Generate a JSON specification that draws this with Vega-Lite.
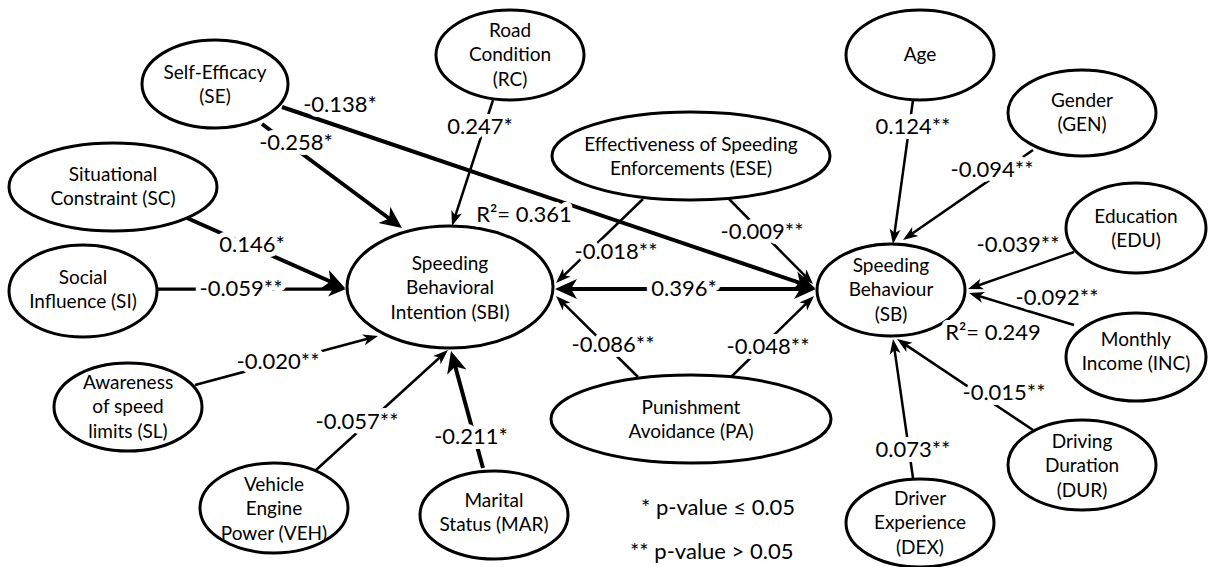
{
  "$schema": "https://vega.github.io/schema/vega-lite/v6.json",
  "width": 1208,
  "height": 567,
  "padding": 0,
  "autosize": {"type": "none"},
  "background": "white",
  "config": {"view": {"stroke": null}},
  "datasets": {
    "nodes": [
      {"id": "SE", "label": "Self-Efficacy\n(SE)", "x": 215, "y": 85},
      {"id": "RC", "label": "Road\nCondition\n(RC)", "x": 510, "y": 55},
      {"id": "ESE", "label": "Effectiveness of Speeding\nEnforcements (ESE)", "x": 691, "y": 157},
      {"id": "AGE", "label": "Age", "x": 920, "y": 55},
      {"id": "GEN", "label": "Gender\n(GEN)", "x": 1082, "y": 113},
      {"id": "SC", "label": "Situational\nConstraint (SC)", "x": 113, "y": 187},
      {"id": "SI", "label": "Social\nInfluence (SI)", "x": 83, "y": 290},
      {"id": "SBI", "label": "Speeding\nBehavioral\nIntention (SBI)", "x": 450, "y": 288},
      {"id": "EDU", "label": "Education\n(EDU)", "x": 1136, "y": 229},
      {"id": "SB", "label": "Speeding\nBehaviour\n(SB)", "x": 891, "y": 290},
      {"id": "INC", "label": "Monthly\nIncome (INC)", "x": 1136, "y": 352},
      {"id": "SL", "label": "Awareness\nof speed\nlimits  (SL)", "x": 128, "y": 407},
      {"id": "VEH", "label": "Vehicle\nEngine\nPower (VEH)", "x": 274, "y": 509},
      {"id": "MAR", "label": "Marital\nStatus (MAR)", "x": 494, "y": 513},
      {"id": "PA", "label": "Punishment\nAvoidance (PA)", "x": 691, "y": 420},
      {"id": "DUR", "label": "Driving\nDuration\n(DUR)", "x": 1082, "y": 466},
      {"id": "DEX", "label": "Driver\nExperience\n(DEX)", "x": 920, "y": 523}
    ],
    "edges": [
      {"from": "SE", "to": "SBI", "x1": 262, "y1": 124, "x2": 402, "y2": 228, "weight": "thick"},
      {"from": "SE", "to": "SB", "x1": 282, "y1": 107, "x2": 815, "y2": 288, "weight": "thick"},
      {"from": "RC", "to": "SBI", "x1": 493, "y1": 100, "x2": 452, "y2": 226, "weight": "thin"},
      {"from": "SC", "to": "SBI", "x1": 187, "y1": 218, "x2": 345, "y2": 288, "weight": "thick"},
      {"from": "SI", "to": "SBI", "x1": 157, "y1": 289, "x2": 346, "y2": 289, "weight": "medium"},
      {"from": "SL", "to": "SBI", "x1": 195, "y1": 385, "x2": 378, "y2": 336, "weight": "thin"},
      {"from": "VEH", "to": "SBI", "x1": 316, "y1": 470, "x2": 448, "y2": 350, "weight": "thin"},
      {"from": "MAR", "to": "SBI", "x1": 483, "y1": 468, "x2": 451, "y2": 351, "weight": "thick"},
      {"from": "ESE", "to": "SBI", "x1": 643, "y1": 199, "x2": 556, "y2": 283, "weight": "thin"},
      {"from": "ESE", "to": "SB", "x1": 728, "y1": 198, "x2": 813, "y2": 284, "weight": "thin"},
      {"from": "SB", "to": "SBI", "x1": 684, "y1": 289, "x2": 555, "y2": 289, "weight": "thick"},
      {"from": "SBI", "to": "SB", "x1": 684, "y1": 289, "x2": 816, "y2": 289, "weight": "thick"},
      {"from": "PA", "to": "SBI", "x1": 638, "y1": 377, "x2": 556, "y2": 296, "weight": "thin"},
      {"from": "PA", "to": "SB", "x1": 731, "y1": 377, "x2": 814, "y2": 296, "weight": "thin"},
      {"from": "AGE", "to": "SB", "x1": 913, "y1": 100, "x2": 893, "y2": 244, "weight": "thin"},
      {"from": "GEN", "to": "SB", "x1": 1033, "y1": 150, "x2": 903, "y2": 240, "weight": "thin"},
      {"from": "EDU", "to": "SB", "x1": 1074, "y1": 252, "x2": 968, "y2": 289, "weight": "thin"},
      {"from": "INC", "to": "SB", "x1": 1074, "y1": 325, "x2": 969, "y2": 293, "weight": "thin"},
      {"from": "DUR", "to": "SB", "x1": 1033, "y1": 430, "x2": 897, "y2": 339, "weight": "thin"},
      {"from": "DEX", "to": "SB", "x1": 913, "y1": 478, "x2": 893, "y2": 339, "weight": "thin"}
    ],
    "labels": [
      {"t": "-0.138*", "x": 340, "y": 105},
      {"t": "-0.258*", "x": 296, "y": 143},
      {"t": "0.247*", "x": 480, "y": 127},
      {"t": "0.146*", "x": 252, "y": 245},
      {"t": "-0.059**", "x": 241, "y": 289},
      {"t": "-0.020**", "x": 278, "y": 362},
      {"t": "-0.057**", "x": 357, "y": 422},
      {"t": "-0.211*", "x": 471, "y": 437},
      {"t": "R²= 0.361", "x": 524, "y": 215},
      {"t": "-0.018**", "x": 616, "y": 252},
      {"t": "-0.009**", "x": 762, "y": 232},
      {"t": "0.396*", "x": 684, "y": 289},
      {"t": "-0.086**", "x": 613, "y": 345},
      {"t": "-0.048**", "x": 768, "y": 347},
      {"t": "0.124**", "x": 913, "y": 127},
      {"t": "-0.094**", "x": 992, "y": 170},
      {"t": "-0.039**", "x": 1018, "y": 245},
      {"t": "-0.092**", "x": 1057, "y": 298},
      {"t": "R²= 0.249", "x": 993, "y": 333},
      {"t": "-0.015**", "x": 1004, "y": 393},
      {"t": "0.073**", "x": 913, "y": 450}
    ],
    "notes": [
      {"t": "* p-value ≤ 0.05", "x": 641, "y": 508},
      {"t": "** p-value > 0.05", "x": 630, "y": 552}
    ]
  },
  "resolve": {"scale": {"shape": "independent", "strokeWidth": "independent"}},
  "layer": [
    {
      "data": {"name": "edges"},
      "transform": [
        {"calculate": "datum.x2 - datum.x1", "as": "dx"},
        {"calculate": "datum.y2 - datum.y1", "as": "dy"},
        {"calculate": "sqrt(datum.dx * datum.dx + datum.dy * datum.dy)", "as": "len"},
        {"calculate": "datum.weight == 'thick' ? 13 : (datum.weight == 'medium' ? 9 : 6)", "as": "back"},
        {"calculate": "datum.x2 - datum.dx / datum.len * datum.back", "as": "xe"},
        {"calculate": "datum.y2 - datum.dy / datum.len * datum.back", "as": "ye"}
      ],
      "mark": {"type": "rule", "color": "black", "strokeCap": "butt"},
      "encoding": {
        "x": {"field": "x1", "type": "quantitative", "axis": null, "scale": {"domain": [0, 1208], "nice": false, "zero": false}},
        "y": {"field": "y1", "type": "quantitative", "axis": null, "scale": {"domain": [0, 567], "nice": false, "zero": false, "reverse": true}},
        "x2": {"field": "xe"},
        "y2": {"field": "ye"},
        "strokeWidth": {"field": "weight", "type": "nominal", "legend": null, "scale": {"domain": ["thin", "medium", "thick"], "range": [2.5, 4, 6.5]}}
      }
    },
    {
      "data": {"name": "nodes"},
      "mark": {"type": "point", "filled": true, "fill": "white", "stroke": "black", "strokeWidth": 3, "opacity": 1, "size": 4},
      "encoding": {
        "x": {"field": "x", "type": "quantitative", "axis": null, "scale": {"domain": [0, 1208], "nice": false, "zero": false}},
        "y": {"field": "y", "type": "quantitative", "axis": null, "scale": {"domain": [0, 567], "nice": false, "zero": false, "reverse": true}},
        "shape": {
          "field": "id", "type": "nominal", "legend": null,
          "scale": {
            "domain": ["SE", "RC", "ESE", "AGE", "GEN", "SC", "SI", "SBI", "EDU", "SB", "INC", "SL", "VEH", "MAR", "PA", "DUR", "DEX"],
            "range": [
              "M-73,-1 A73,44 0 1 0 73,-1 A73,44 0 1 0 -73,-1 Z",
              "M-74,0 A74,45 0 1 0 74,0 A74,45 0 1 0 -74,0 Z",
              "M-139,-1 A139,44 0 1 0 139,-1 A139,44 0 1 0 -139,-1 Z",
              "M-74,0 A74,45 0 1 0 74,0 A74,45 0 1 0 -74,0 Z",
              "M-74,0 A74,43 0 1 0 74,0 A74,43 0 1 0 -74,0 Z",
              "M-104,0 A104,44 0 1 0 104,0 A104,44 0 1 0 -104,0 Z",
              "M-74,1 A74,46 0 1 0 74,1 A74,46 0 1 0 -74,1 Z",
              "M-103,-1 A103,61 0 1 0 103,-1 A103,61 0 1 0 -103,-1 Z",
              "M-70,-1 A70,45 0 1 0 70,-1 A70,45 0 1 0 -70,-1 Z",
              "M-74,0 A74,46 0 1 0 74,0 A74,46 0 1 0 -74,0 Z",
              "M-70,5 A70,44 0 1 0 70,5 A70,44 0 1 0 -70,5 Z",
              "M-74,0 A74,44 0 1 0 74,0 A74,44 0 1 0 -74,0 Z",
              "M-74,-1 A74,45 0 1 0 74,-1 A74,45 0 1 0 -74,-1 Z",
              "M-74,2 A74,44 0 1 0 74,2 A74,44 0 1 0 -74,2 Z",
              "M-140,-1 A140,44 0 1 0 140,-1 A140,44 0 1 0 -140,-1 Z",
              "M-74,-1 A74,45 0 1 0 74,-1 A74,45 0 1 0 -74,-1 Z",
              "M-74,0 A74,44 0 1 0 74,0 A74,44 0 1 0 -74,0 Z"
            ]
          }
        }
      }
    },
    {
      "data": {"name": "edges"},
      "transform": [
        {"calculate": "atan2(datum.x2 - datum.x1, datum.y1 - datum.y2) * 180 / PI", "as": "ang"}
      ],
      "mark": {"type": "point", "filled": true, "color": "black", "opacity": 1, "size": 4, "strokeWidth": 0},
      "encoding": {
        "x": {"field": "x2", "type": "quantitative", "axis": null, "scale": {"domain": [0, 1208], "nice": false, "zero": false}},
        "y": {"field": "y2", "type": "quantitative", "axis": null, "scale": {"domain": [0, 567], "nice": false, "zero": false, "reverse": true}},
        "angle": {"field": "ang", "type": "quantitative", "scale": null},
        "shape": {
          "field": "weight", "type": "nominal", "legend": null,
          "scale": {
            "domain": ["thin", "medium", "thick"],
            "range": ["M0,0 L5.5,15 L0,11 L-5.5,15 Z", "M0,0 L7.5,18 L0,13 L-7.5,18 Z", "M0,0 L10,22 L0,16 L-10,22 Z"]
          }
        }
      }
    },
    {
      "data": {"name": "labels"},
      "mark": {"type": "text", "font": "Lato", "fontSize": 22, "align": "center", "baseline": "middle", "fill": "white", "stroke": "white", "strokeWidth": 10, "strokeJoin": "round"},
      "encoding": {
        "x": {"field": "x", "type": "quantitative", "axis": null, "scale": {"domain": [0, 1208], "nice": false, "zero": false}},
        "y": {"field": "y", "type": "quantitative", "axis": null, "scale": {"domain": [0, 567], "nice": false, "zero": false, "reverse": true}},
        "text": {"field": "t"}
      }
    },
    {
      "data": {"name": "labels"},
      "mark": {"type": "text", "font": "Lato", "fontSize": 22, "align": "center", "baseline": "middle", "color": "black"},
      "encoding": {
        "x": {"field": "x", "type": "quantitative", "axis": null, "scale": {"domain": [0, 1208], "nice": false, "zero": false}},
        "y": {"field": "y", "type": "quantitative", "axis": null, "scale": {"domain": [0, 567], "nice": false, "zero": false, "reverse": true}},
        "text": {"field": "t"}
      }
    },
    {
      "data": {"name": "nodes"},
      "transform": [
        {"calculate": "datum.y - (length(split(datum.label, '\\n')) - 1) * 12.25", "as": "ty"}
      ],
      "mark": {"type": "text", "font": "Lato", "fontSize": 19, "lineHeight": 24.5, "lineBreak": "\n", "align": "center", "baseline": "middle", "color": "black"},
      "encoding": {
        "x": {"field": "x", "type": "quantitative", "axis": null, "scale": {"domain": [0, 1208], "nice": false, "zero": false}},
        "y": {"field": "ty", "type": "quantitative", "axis": null, "scale": {"domain": [0, 567], "nice": false, "zero": false, "reverse": true}},
        "text": {"field": "label"}
      }
    },
    {
      "data": {"name": "notes"},
      "mark": {"type": "text", "font": "Lato", "fontSize": 22, "align": "left", "baseline": "middle", "color": "black"},
      "encoding": {
        "x": {"field": "x", "type": "quantitative", "axis": null, "scale": {"domain": [0, 1208], "nice": false, "zero": false}},
        "y": {"field": "y", "type": "quantitative", "axis": null, "scale": {"domain": [0, 567], "nice": false, "zero": false, "reverse": true}},
        "text": {"field": "t"}
      }
    }
  ]
}
